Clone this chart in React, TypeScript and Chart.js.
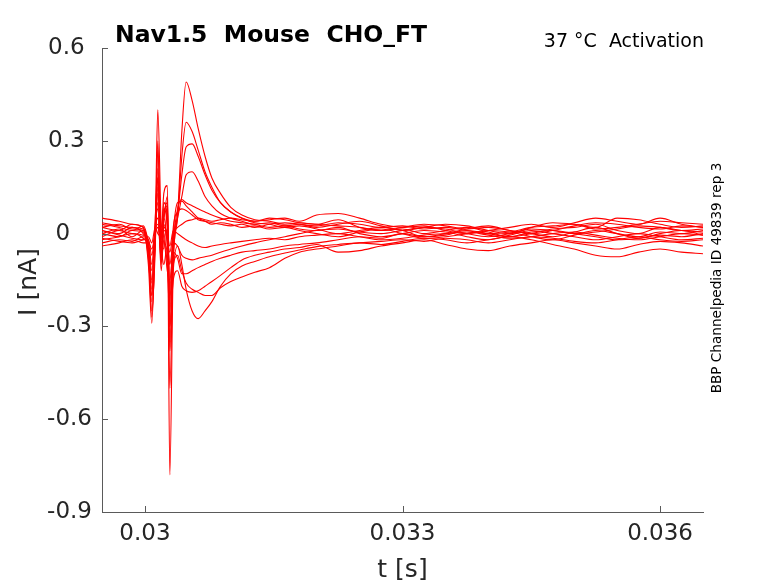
import React, { useEffect, useRef } from "react";
import { Chart, registerables } from "chart.js";
import type { Plugin } from "chart.js";

Chart.register(...registerables);

// sweep time base in ms (converted to s for the axis)
const timeMs = [
  29.5, 29.7, 29.85, 29.98,
  30.04, 30.08, 30.12, 30.15, 30.19, 30.22, 30.26, 30.29, 30.33, 30.38,
  30.43, 30.48, 30.55, 30.62, 30.7, 30.78, 30.88, 31.0,
  31.13, 31.28, 31.45, 31.63, 31.8,
  32.0, 32.25, 32.5, 32.75, 33.0, 33.25, 33.5, 33.75, 34.0, 34.25, 34.5, 34.75, 35.0, 35.25, 35.5, 35.75, 36.0, 36.25, 36.5,
];

// currents in nA, one array per sweep
const sweep01 = [
  0.02, 0.01, 0.03, 0.02,
  -0.08, -0.2, 0.05, 0.18, -0.05, 0.06, 0.1, -0.78, -0.1, 0.06,
  0.33, 0.49, 0.43, 0.34, 0.25, 0.18, 0.13, 0.085,
  0.06, 0.045, 0.04, 0.03, 0.035,
  0.03, 0.045, 0.02, 0.01, 0.015, 0.0, 0.01, 0.02, 0.005, -0.01, 0.0, 0.015, 0.02, 0.03, 0.01, 0.0, 0.02, 0.01, 0.005,
];
const sweep02 = [
  0.0, 0.015, -0.01, 0.01,
  -0.1, -0.29, 0.02, 0.4, 0.02, -0.05, 0.08, -0.5, -0.08, 0.05,
  0.25, 0.36, 0.33, 0.27, 0.2, 0.15, 0.1, 0.07,
  0.05, 0.04, 0.045, 0.05, 0.04,
  0.06, 0.065, 0.05, 0.03, 0.02, 0.025, 0.01, 0.0, 0.01, 0.02, 0.03, 0.02, 0.035, 0.05, 0.04, 0.03, 0.05, 0.03, 0.02,
];
const sweep03 = [
  -0.02, -0.01, 0.0, -0.015,
  -0.06, -0.27, -0.02, 0.27, -0.02, 0.1, 0.05, -0.35, -0.05, 0.06,
  0.19, 0.28, 0.29, 0.25, 0.19, 0.14, 0.1, 0.07,
  0.05, 0.035, 0.03, 0.02, 0.025,
  0.015, 0.0, 0.01, 0.02, 0.01, -0.01, 0.0, 0.015, 0.025, 0.01, 0.0, -0.01, 0.005, 0.02, 0.0, -0.015, 0.0, 0.01, -0.005,
];
const sweep04 = [
  0.05, 0.04, 0.03, 0.02,
  -0.05, -0.22, 0.0, 0.21, 0.0, 0.13, 0.155, -0.3, -0.02, 0.05,
  0.12, 0.19, 0.2, 0.17, 0.12, 0.09, 0.065, 0.05,
  0.04, 0.03, 0.035, 0.025, 0.03,
  0.02, 0.03, 0.04, 0.025, 0.01, 0.02, 0.03, 0.025, 0.01, 0.0, 0.02, 0.035, 0.03, 0.02, 0.05, 0.045, 0.03, 0.02, 0.025,
];
const sweep05 = [
  0.01, 0.0, 0.02, 0.0,
  -0.04, -0.18, -0.03, 0.18, -0.06, 0.04, 0.12, -0.25, -0.03, 0.08,
  0.11, 0.1, 0.09, 0.08, 0.07, 0.06, 0.05, 0.04,
  0.035, 0.03, 0.02, 0.025, 0.015,
  0.01, 0.02, 0.0, -0.01, 0.0, 0.01, 0.005, -0.01, -0.02, -0.005, 0.01, 0.0, -0.01, -0.02, -0.01, 0.0, -0.01, -0.02, -0.015,
];
const sweep06 = [
  -0.03, -0.02, -0.025, -0.01,
  -0.04, -0.15, 0.0, 0.13, 0.02, 0.08, 0.02, -0.22, 0.0, 0.1,
  0.105, 0.09, 0.07, 0.05, 0.04, 0.03, 0.035, 0.03,
  0.02, 0.025, 0.015, 0.02, 0.01,
  0.0, -0.01, 0.005, 0.015, 0.0, -0.015, -0.01, 0.0, 0.01, 0.005, -0.01, -0.02, -0.005, 0.01, 0.0, -0.01, 0.005, 0.0, 0.01,
];
const sweep07 = [
  0.03, 0.02, 0.01, 0.025,
  -0.03, -0.12, 0.01, 0.1, -0.04, 0.06, 0.09, -0.18, 0.02, 0.07,
  0.08, 0.075, 0.06, 0.045, 0.04, 0.035, 0.03, 0.025,
  0.03, 0.02, 0.03, 0.035, 0.03,
  0.025, 0.035, 0.03, 0.02, 0.025, 0.015, 0.02, 0.01, 0.0, 0.005, 0.02, 0.025, 0.03, 0.015, 0.02, 0.03, 0.04, 0.035, 0.03,
];
const sweep08 = [
  0.0, -0.01, 0.01, 0.005,
  -0.06, -0.25, -0.05, 0.3, -0.08, 0.02, 0.0, -0.38, -0.12, -0.04,
  -0.1, -0.18, -0.25, -0.275, -0.25, -0.22, -0.17, -0.13,
  -0.105, -0.09, -0.075, -0.063, -0.053,
  -0.042, -0.035, -0.03, -0.025, -0.02, -0.025, -0.015, -0.02, -0.03, -0.02, -0.01, -0.015, -0.025, -0.03, -0.02, -0.01, -0.02, -0.025, -0.02,
];
const sweep09 = [
  -0.01, 0.01, 0.0, -0.005,
  -0.05, -0.2, 0.0, 0.15, -0.1, 0.05, -0.05, -0.3, -0.15, -0.12,
  -0.17, -0.185, -0.19, -0.185, -0.17, -0.155, -0.135, -0.11,
  -0.085, -0.07, -0.06, -0.05, -0.045,
  -0.035, -0.06, -0.055, -0.04, -0.03, -0.02, -0.035, -0.05, -0.055, -0.04, -0.03, -0.02, -0.03, -0.04, -0.05, -0.035, -0.025, -0.03, -0.04,
];
const sweep10 = [
  0.02, 0.03, 0.015, 0.01,
  -0.04, -0.16, 0.03, 0.08, -0.12, 0.0, -0.1, -0.2, -0.1, -0.07,
  -0.12, -0.16, -0.18, -0.19, -0.2, -0.2, -0.175, -0.155,
  -0.14, -0.125, -0.11, -0.08, -0.06,
  -0.05, -0.04, -0.03, -0.035, -0.025, -0.015, -0.02, -0.03, -0.02, -0.01, -0.02, -0.035, -0.05, -0.07, -0.075, -0.06, -0.05, -0.06, -0.065,
];
const sweep11 = [
  -0.04, -0.03, -0.02, -0.03,
  -0.03, -0.1, 0.02, 0.05, -0.09, -0.02, -0.12, -0.15, -0.06, -0.08,
  -0.13, -0.13, -0.12, -0.11, -0.1, -0.09, -0.08, -0.07,
  -0.06, -0.055, -0.05, -0.04, -0.035,
  -0.03, -0.02, -0.01, -0.015, 0.0, -0.01, -0.005, 0.01, 0.0, -0.01, 0.005, 0.01, 0.0, -0.01, -0.02, -0.015, -0.005, -0.01, 0.0,
];
const sweep12 = [
  0.01, -0.005, -0.015, -0.02,
  -0.02, -0.07, 0.01, 0.03, -0.05, -0.1, -0.04, -0.1, -0.03, -0.04,
  -0.07, -0.08, -0.085, -0.08, -0.075, -0.07, -0.06, -0.05,
  -0.04, -0.03, -0.02, -0.01, 0.0,
  0.01, 0.015, 0.005, 0.0, 0.01, 0.02, 0.015, 0.0, -0.01, 0.0, 0.015, 0.01, 0.0, 0.005, 0.015, 0.025, 0.02, 0.01, 0.015,
];
const sweep13 = [
  0.035, 0.025, 0.02, 0.015,
  -0.02, -0.05, 0.0, 0.02, -0.03, 0.03, -0.02, -0.06, 0.0, 0.02,
  0.03, 0.04, 0.045, 0.05, 0.045, 0.04, 0.045, 0.05,
  0.045, 0.04, 0.05, 0.045, 0.035,
  0.03, 0.025, 0.02, 0.01, 0.02, 0.03, 0.025, 0.015, 0.02, 0.01, 0.0, 0.01, 0.025, 0.035, 0.03, 0.02, 0.015, 0.025, 0.02,
];
const sweep14 = [
  -0.015, -0.025, -0.03, -0.02,
  -0.01, -0.03, 0.02, 0.0, -0.01, 0.01, 0.0, -0.04, 0.01, 0.0,
  -0.01, -0.02, -0.03, -0.04, -0.045, -0.04, -0.035, -0.03,
  -0.025, -0.02, -0.015, -0.02, -0.01,
  -0.005, 0.0, -0.01, -0.02, -0.015, -0.005, 0.0, 0.005, -0.005, -0.015, -0.01, 0.0, 0.005, -0.005, -0.015, -0.02, -0.01, 0.0, -0.005,
];

const sweeps = [
  sweep01, sweep02, sweep03, sweep04, sweep05, sweep06, sweep07,
  sweep08, sweep09, sweep10, sweep11, sweep12, sweep13, sweep14,
];

const xTickValues = [0.03, 0.033, 0.036];
const xTickLabels = ["0.03", "0.033", "0.036"];
const yTickValues = [-0.9, -0.6, -0.3, 0, 0.3, 0.6];
const yTickLabels = ["-0.9", "-0.6", "-0.3", "0", "0.3", "0.6"];

const titleText = "Nav1.5  Mouse  CHO_FT";
const conditionText = "37 °C  Activation";
const sideText = "BBP Channelpedia ID 49839 rep 3";
const xLabel = "t [s]";
const yLabel = "I [nA]";

const FONT = "'DejaVu Sans', sans-serif";
const AXIS_COLOR = "#5a5a5a";
const TEXT_COLOR = "#262626";

const decorations: Plugin<"line"> = {
  id: "decorations",
  afterDraw(chart) {
    const { ctx, chartArea } = chart;
    const xs = chart.scales.x;
    const ys = chart.scales.y;
    ctx.save();

    // inward tick marks
    ctx.strokeStyle = AXIS_COLOR;
    ctx.lineWidth = 1;
    ctx.beginPath();
    for (const v of xTickValues) {
      const px = Math.round(xs.getPixelForValue(v)) + 0.5;
      ctx.moveTo(px, chartArea.bottom);
      ctx.lineTo(px, chartArea.bottom - 6);
    }
    for (const v of yTickValues) {
      const py = Math.round(ys.getPixelForValue(v)) + 0.5;
      ctx.moveTo(chartArea.left, py);
      ctx.lineTo(chartArea.left + 6, py);
    }
    ctx.stroke();

    // titles
    ctx.fillStyle = "#000";
    ctx.textBaseline = "alphabetic";
    ctx.font = `bold 23.5px ${FONT}`;
    ctx.textAlign = "left";
    ctx.fillText(titleText, 115, 42);

    ctx.font = `19px ${FONT}`;
    ctx.textAlign = "right";
    ctx.fillText(conditionText, 704, 47);

    // axis labels
    ctx.fillStyle = TEXT_COLOR;
    ctx.font = `25px ${FONT}`;
    ctx.textAlign = "center";
    ctx.fillText(xLabel, (chartArea.left + chartArea.right) / 2, 577);

    ctx.save();
    ctx.translate(36, (chartArea.top + chartArea.bottom) / 2 + 2);
    ctx.rotate(-Math.PI / 2);
    ctx.fillText(yLabel, 0, 0);
    ctx.restore();

    ctx.fillStyle = "#000";
    ctx.font = `13.6px ${FONT}`;
    ctx.save();
    ctx.translate(721, 278);
    ctx.rotate(-Math.PI / 2);
    ctx.fillText(sideText, 0, 0);
    ctx.restore();

    ctx.restore();
  },
};

export default function App(): React.ReactElement {
  const canvasRef = useRef<HTMLCanvasElement | null>(null);

  useEffect(() => {
    if (!canvasRef.current) return;

    const datasets = sweeps.map((sweep, i) => ({
      label: `sweep ${i + 1}`,
      data: sweep.map((y, j) => ({ x: timeMs[j] / 1000, y })),
      borderColor: "#ff0000",
      borderWidth: 1.1,
      pointRadius: 0,
      fill: false,
      tension: 0,
      cubicInterpolationMode: "monotone" as const,
    }));

    const chart = new Chart(canvasRef.current, {
      type: "line",
      data: { datasets },
      options: {
        responsive: false,
        animation: false,
        parsing: false,
        layout: { padding: { top: 48, right: 75, left: 0, bottom: 0 } },
        plugins: {
          legend: { display: false },
          tooltip: { enabled: false },
        },
        scales: {
          x: {
            type: "linear",
            min: 0.0295,
            max: 0.0365,
            afterBuildTicks: (scale) => {
              scale.ticks = xTickValues.map((value) => ({ value }));
            },
            afterFit: (scale) => {
              scale.height = 71;
            },
            grid: { display: false, drawTicks: false },
            border: { display: true, color: AXIS_COLOR, width: 1 },
            ticks: {
              autoSkip: false,
              maxRotation: 0,
              padding: 8,
              color: TEXT_COLOR,
              font: { family: FONT, size: 23 },
              callback: (value) => xTickLabels[xTickValues.indexOf(Number(value))] ?? "",
            },
          },
          y: {
            type: "linear",
            min: -0.9,
            max: 0.6,
            afterBuildTicks: (scale) => {
              scale.ticks = yTickValues.map((value) => ({ value }));
            },
            afterFit: (scale) => {
              scale.width = 102;
            },
            grid: { display: false, drawTicks: false },
            border: { display: true, color: AXIS_COLOR, width: 1 },
            ticks: {
              autoSkip: false,
              padding: 10,
              color: TEXT_COLOR,
              font: { family: FONT, size: 23 },
              // fixed-width labels, as in the original figure
              callback: (value) => (yTickLabels[yTickValues.indexOf(Number(value))] ?? "").padEnd(4),
            },
          },
        },
      },
      plugins: [decorations],
    });

    return () => {
      chart.destroy();
    };
  }, []);

  return (
    <div style={{ position: "fixed", left: 0, top: 0, width: 778, height: 583, background: "#fff" }}>
      <canvas ref={canvasRef} width={778} height={583} style={{ display: "block", width: 778, height: 583 }} />
    </div>
  );
}
